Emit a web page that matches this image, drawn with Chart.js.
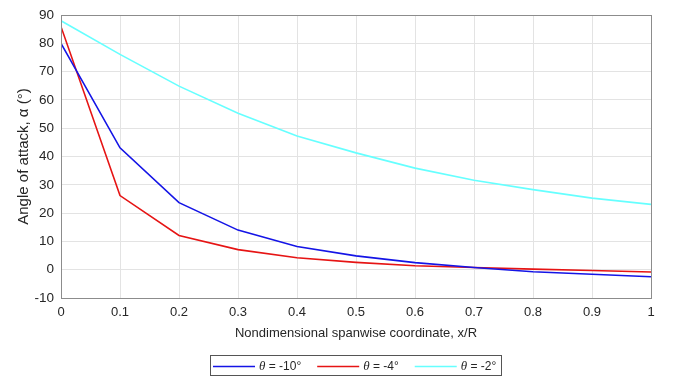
<!DOCTYPE html>
<html>
<head>
<meta charset="utf-8">
<script src="https://cdn.jsdelivr.net/npm/chart.js@4"></script>
<style>
  html, body { margin: 0; padding: 0; background: #fff; }
  #wrap { width: 673px; height: 379px; }
</style>
</head>
<body>
<div id="wrap"><canvas id="chart" width="673" height="379"></canvas></div>
<script>
// spanwise stations x/R
const xR = [0, 0.1, 0.2, 0.3, 0.4, 0.5, 0.6, 0.7, 0.8, 0.9, 1];

// angle of attack (deg) for each twist setting
const alphaM10 = [80, 43.1, 23.7, 14, 8.2, 4.9, 2.5, 0.8, -0.7, -1.6, -2.5];
const alphaM4 = [85.9, 26.2, 12.1, 7.1, 4.2, 2.6, 1.4, 0.8, 0.2, -0.3, -0.8];
const alphaM2 = [88, 76.1, 64.9, 55.3, 47.3, 41.3, 35.9, 31.6, 28.3, 25.3, 23.1];

const seriesNames = ['-10°', '-4°', '-2°'];
const yTicks = { min: -10, max: 90, step: 10 };
const xTicks = { min: 0, max: 1, step: 0.1 };

function toPoints(ys) {
    return xR.map(function(x, i) { return { x: x, y: ys[i] }; });
}

const textColor = '#262626';
const fontFamily = '"Liberation Sans", Arial, Helvetica, sans-serif';

// frame around the plot area
const frame = {
    id: 'frame',
    afterDraw(chart) {
        const a = chart.chartArea;
        const ctx = chart.ctx;
        ctx.save();
        ctx.strokeStyle = '#8c8c8c';
        ctx.lineWidth = 1;
        ctx.strokeRect(Math.round(a.left) + 0.5, Math.round(a.top) + 0.5,
            Math.round(a.right - a.left), Math.round(a.bottom - a.top));
        ctx.restore();
    }
};

// boxed legend under the axis title, with italic theta
const boxLegend = {
    id: 'boxLegend',
    afterDraw(chart) {
        const ctx = chart.ctx;
        const a = chart.chartArea;
        const sets = chart.data.datasets;
        const lineLen = 42, gapLine = 4, gapItem = 16, padX = 3, padR = 5;
        const yMid = 366.5;
        const thetaFont = 'italic 13px "Liberation Serif", serif';
        const labelFont = '12px ' + fontFamily;
        ctx.save();
        ctx.textBaseline = 'middle';
        const widths = sets.map(function(ds) {
            ctx.font = thetaFont;
            const w1 = ctx.measureText('\u03b8').width;
            ctx.font = labelFont;
            const w2 = ctx.measureText(' = ' + ds.label).width;
            return { t: w1, r: w2 };
        });
        let total = padX + padR;
        widths.forEach(function(w, i) {
            total += lineLen + gapLine + w.t + w.r + (i < widths.length - 1 ? gapItem : 0);
        });
        const left = Math.round((a.left + a.right) / 2 - total / 2);
        ctx.strokeStyle = '#555';
        ctx.lineWidth = 1;
        ctx.strokeRect(left + 0.5, 355.5, Math.round(total), 20);
        let x = left + padX;
        sets.forEach(function(ds, i) {
            ctx.strokeStyle = ds.borderColor;
            ctx.lineWidth = 1.6;
            ctx.beginPath();
            ctx.moveTo(x, yMid);
            ctx.lineTo(x + lineLen, yMid);
            ctx.stroke();
            x += lineLen + gapLine;
            ctx.fillStyle = textColor;
            ctx.font = thetaFont;
            ctx.fillText('\u03b8', x, yMid);
            x += widths[i].t;
            ctx.font = labelFont;
            ctx.fillText(' = ' + ds.label, x, yMid);
            x += widths[i].r + gapItem;
        });
        ctx.restore();
    }
};

const colors = ['#1414e6', '#e61414', '#66ffff'];
const series = [alphaM10, alphaM4, alphaM2];

const config = {
    type: 'line',
    data: {
        datasets: series.map(function(ys, i) {
            return {
                label: seriesNames[i],
                data: toPoints(ys),
                borderColor: colors[i],
                backgroundColor: colors[i],
                borderWidth: 1.6,
                pointRadius: 0,
                tension: 0,
                fill: false
            };
        })
    },
    options: {
        responsive: false,
        animation: false,
        layout: { padding: { top: 15, right: 22, bottom: 37, left: 0 } },
        plugins: {
            legend: { display: false },
            tooltip: { enabled: false }
        },
        scales: {
            x: {
                type: 'linear',
                min: xTicks.min,
                max: xTicks.max,
                ticks: {
                    stepSize: xTicks.step,
                    color: textColor,
                    font: { family: fontFamily, size: 13 },
                    maxRotation: 0,
                    padding: 7,
                    callback: function(v) { return Math.round(v * 10) / 10; }
                },
                grid: { color: '#e3e3e3', drawTicks: false },
                border: { display: false },
                title: {
                    display: true,
                    text: 'Nondimensional spanwise coordinate, x/R',
                    color: textColor,
                    font: { family: fontFamily, size: 13 },
                    padding: { top: 0, bottom: 1 }
                },
                afterFit: function(s) { s.height = 44; }
            },
            y: {
                min: yTicks.min,
                max: yTicks.max,
                ticks: {
                    stepSize: yTicks.step,
                    color: textColor,
                    font: { family: fontFamily, size: 13.5 },
                    padding: 7
                },
                grid: { color: '#e3e3e3', drawTicks: false },
                border: { display: false },
                title: {
                    display: true,
                    text: 'Angle of attack, \u03b1 (\u00b0)',
                    color: textColor,
                    font: { family: fontFamily, size: 15 },
                    padding: { top: 15, bottom: 0 }
                },
                afterFit: function(s) { s.width = 61; }
            }
        }
    },
    plugins: [frame, boxLegend]
};

new Chart(document.getElementById('chart'), config);
</script>
</body>
</html>
